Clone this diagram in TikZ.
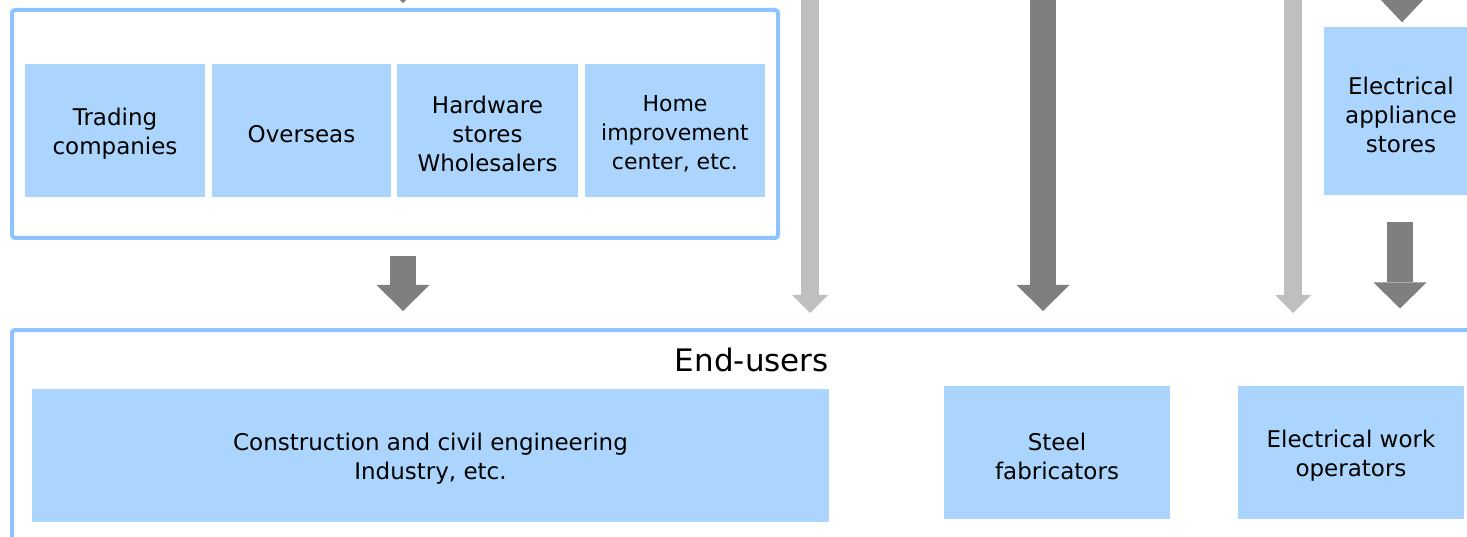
\documentclass[tikz,border=0pt]{standalone}
\usepackage{fontspec}
\setmainfont{DejaVu Sans}
\usetikzlibrary{arrows.meta}
\definecolor{boxfill}{HTML}{ABD5FC}
\definecolor{frameblue}{HTML}{8DC4FF}
\definecolor{darkarrow}{HTML}{7F7F7F}
\definecolor{lightarrow}{HTML}{BFBFBF}
\tikzset{
  cell/.style={fill=boxfill, inner sep=0pt},
  celltext/.style={align=center, text=black, inner sep=0pt, yshift=-3.5pt,
    font=\fontsize{23}{29}\selectfont},
  frame/.style={draw=frameblue, line width=4pt, rounded corners=3pt, inner sep=0pt},
  bigarrow/.style={draw=darkarrow, line width=26pt,
    -{Triangle[width=53pt,length=26pt,line width=0pt]}},
  thinarrow/.style={draw=lightarrow, line width=18.5pt,
    -{Triangle[width=36pt,length=18pt,line width=0pt]}},
}
\begin{document}
\begin{tikzpicture}[x=1pt,y=-1pt]
\useasboundingbox (0,0) rectangle (1467,537);
\clip (0,0) rectangle (1467,537);

% distribution channels group
\node[frame, minimum width=766pt, minimum height=228pt] (dealers) at (395,124) {};
\node[cell, minimum width=180pt, minimum height=133pt,
  label={[celltext]center:{Trading\\companies}}] (trading) at (115,130.5) {};
\node[cell, minimum width=179pt, minimum height=133pt,
  label={[celltext]center:{Overseas}}] (overseas) at (301.5,130.5) {};
\node[cell, minimum width=181pt, minimum height=133pt,
  label={[celltext]center:{Hardware\\stores\\Wholesalers}}] (hardware) at (487.5,130.5) {};
\node[cell, minimum width=180pt, minimum height=133pt,
  label={[celltext, font=\fontsize{22}{29}\selectfont]center:{Home\\improvement\\center, etc.}}] (home) at (675,130.5) {};

% electrical appliance stores
\node[cell, minimum width=154pt, minimum height=168pt,
  label={[celltext]center:{Electrical\\appliance\\stores}}] (appliance) at (1401,111) {};

% end-users group
\node[frame, minimum width=1480pt, minimum height=240pt] (endusers) at (752,450) {};
\node[font=\fontsize{31}{36}\selectfont, anchor=base east, inner sep=0pt] (eulabel) at (829,371) {End-users};
\node[cell, minimum width=797pt, minimum height=133pt,
  label={[celltext]center:{Construction and civil engineering\\Industry, etc.}}] (construction) at (430.5,455.5) {};
\node[cell, minimum width=226pt, minimum height=133pt,
  label={[celltext]center:{Steel\\fabricators}}] (steel) at (1057,452.5) {};
\node[cell, minimum width=226pt, minimum height=133pt,
  label={[celltext]center:{Electrical work\\operators}}] (elecwork) at (1351,452.5) {};

% incoming flows from above
\coordinate (inA) at (403,-60);
\coordinate (inB) at (810,-20);
\coordinate (inC) at (1043,-20);
\coordinate (inD) at (1293,-20);
\coordinate (inE) at (1402,-60);

\draw[bigarrow, shorten >=5pt] (inA) -- (inA |- dealers.north);
\draw[bigarrow, shorten <=16pt, shorten >=17pt] (dealers.south -| inA) -- (endusers.north -| inA);
\draw[thinarrow, shorten >=15pt] (inB) -- (inB |- endusers.north);
\draw[bigarrow, shorten >=17pt] (inC) -- (inC |- endusers.north);
\draw[thinarrow, shorten >=15pt] (inD) -- (inD |- endusers.north);
\draw[bigarrow, -{Triangle[width=53pt,length=28pt,line width=0pt]}, shorten >=4.5pt] (inE) -- (inE |- appliance.north);
\draw[bigarrow, shorten <=26.5pt, shorten >=19.5pt] ([xshift=-1pt]appliance.south) -- ([xshift=-1pt]appliance.south |- endusers.north);
\end{tikzpicture}
\end{document}
